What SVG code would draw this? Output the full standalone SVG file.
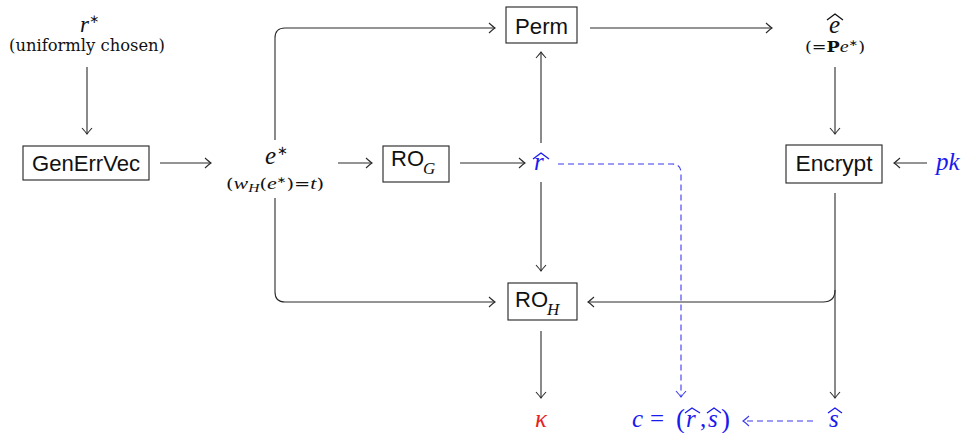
<svg xmlns="http://www.w3.org/2000/svg" width="966" height="433" viewBox="0 0 966 433">
<defs>
<style>
.box{fill:#fff;stroke:#222;stroke-width:1.1}
.lbl{font-family:"Liberation Sans",Arial,sans-serif;font-size:22px;fill:#111}
.mi{font-family:"Liberation Serif","Times New Roman",serif;font-style:italic;fill:#111}
.rm{font-family:"Liberation Serif","Times New Roman",serif;fill:#111}
.dv{font-family:"DejaVu Serif",serif;fill:#111}
.ast{font-family:"DejaVu Sans",sans-serif;font-style:normal}
.blue{fill:#1a1aee}
.red{fill:#e82222}
.edge{fill:none;stroke:#2a2a2a;stroke-width:1.1}
.dash{fill:none;stroke:#3a3af0;stroke-width:1.1;stroke-dasharray:6,4}
.hat{fill:none;stroke-width:1.3;stroke-linejoin:round}
</style>
<marker id="arr" markerUnits="userSpaceOnUse" markerWidth="14" markerHeight="14" viewBox="-7 -7 14 14" refX="0" refY="0" orient="auto" overflow="visible">
<path d="M-6,-5 Q-1.8,-1.2 0,0 Q-1.8,1.2 -6,5" fill="none" stroke="#2a2a2a" stroke-width="1.1"/>
</marker>
<marker id="arrb" markerUnits="userSpaceOnUse" markerWidth="14" markerHeight="14" viewBox="-7 -7 14 14" refX="0" refY="0" orient="auto" overflow="visible">
<path d="M-6,-5 Q-1.8,-1.2 0,0 Q-1.8,1.2 -6,5" fill="none" stroke="#3a3af0" stroke-width="1.1"/>
</marker>
</defs>
<rect width="966" height="433" fill="#fff"/>

<g id="rstar">
<text class="mi" x="80" y="32" font-size="23">r</text>
<text class="rm ast" x="89" y="23" font-size="12">∗</text>
<text class="dv" x="87" y="51" font-size="16" text-anchor="middle" textLength="156" lengthAdjust="spacingAndGlyphs">(uniformly chosen)</text>
</g>

<g id="generrvec">
<rect class="box" x="23" y="146" width="126" height="34"/>
<text class="lbl" x="86" y="171" text-anchor="middle" textLength="108" lengthAdjust="spacingAndGlyphs">GenErrVec</text>
</g>

<g id="estar">
<text class="mi" x="265" y="164" font-size="25">e</text>
<text class="rm ast" x="277" y="155" font-size="13">∗</text>
<text class="dv" x="226" y="189" font-size="15" textLength="98" lengthAdjust="spacingAndGlyphs">(<tspan class="mi" font-size="17">w</tspan><tspan class="mi" font-size="12" dy="3">H</tspan><tspan dy="-3">(</tspan><tspan class="mi" font-size="17">e</tspan><tspan class="ast" font-size="9" dy="-6">∗</tspan><tspan dy="6">)=</tspan><tspan class="mi" font-size="17">t</tspan>)</text>
</g>

<g id="rog">
<rect class="box" x="383" y="146" width="66" height="36"/>
<text class="lbl" x="391" y="166">RO</text>
<text class="mi" x="423" y="174" font-size="17">G</text>
</g>

<g id="rhat">
<text class="mi blue" x="534" y="170" font-size="25">r</text>
<path class="hat" stroke="#1a1aee" d="M533,159 L541,153 L549,159"/>
</g>

<g id="perm">
<rect class="box" x="506" y="7" width="71" height="36"/>
<text class="lbl" x="541.5" y="34" text-anchor="middle" textLength="53" lengthAdjust="spacingAndGlyphs">Perm</text>
</g>

<g id="ehat">
<text class="mi" x="829" y="33" font-size="25">e</text>
<path class="hat" stroke="#111" d="M827,20 L835,14 L843,20"/>
<text class="dv" x="805" y="52" font-size="14" textLength="60" lengthAdjust="spacingAndGlyphs">(=<tspan font-weight="bold">P</tspan><tspan class="mi" font-size="16">e</tspan><tspan class="ast" font-size="9" dy="-6">∗</tspan><tspan dy="6">)</tspan></text>
</g>

<g id="encrypt">
<rect class="box" x="786" y="145" width="96" height="38"/>
<text class="lbl" x="834" y="171" text-anchor="middle" textLength="77" lengthAdjust="spacingAndGlyphs">Encrypt</text>
</g>

<g id="pk">
<text class="mi blue" x="936" y="170" font-size="25">pk</text>
</g>

<g id="roh">
<rect class="box" x="508" y="283" width="69" height="37"/>
<text class="lbl" x="515" y="307">RO</text>
<text class="mi" x="547" y="315" font-size="17">H</text>
</g>

<g id="kappa">
<text class="mi red" x="541" y="427" font-size="25" text-anchor="middle">κ</text>
</g>

<g id="cipher">
<text class="mi blue" x="632" y="427" font-size="25">c</text>
<text class="rm blue" x="650" y="427" font-size="25">=</text>
<text class="rm blue" x="676" y="428" font-size="27">(</text>
<text class="mi blue" x="686" y="427" font-size="25">r</text>
<path class="hat" stroke="#1a1aee" d="M685,413 L692,408 L700,413"/>
<text class="rm blue" x="700" y="427" font-size="25">,</text>
<text class="mi blue" x="708" y="427" font-size="25">s</text>
<path class="hat" stroke="#1a1aee" d="M707,413 L714,408 L721,413"/>
<text class="rm blue" x="721" y="428" font-size="27">)</text>
</g>

<g id="shat">
<text class="mi blue" x="829" y="427" font-size="25">s</text>
<path class="hat" stroke="#1a1aee" d="M828,413 L835,408 L842,413"/>
</g>

<g id="connectors">
<path class="edge" marker-end="url(#arr)" d="M87,67 V134"/>
<path class="edge" marker-end="url(#arr)" d="M160,163 H211"/>
<path class="edge" marker-end="url(#arr)" d="M338,163 H372"/>
<path class="edge" marker-end="url(#arr)" d="M460,163 H525"/>
<path class="edge" marker-end="url(#arr)" d="M541,143 V52"/>
<path class="edge" marker-end="url(#arr)" d="M275,140 V38 Q275,28 285,28 H495"/>
<path class="edge" marker-end="url(#arr)" d="M275,198 V292 Q275,302 285,302 H495"/>
<path class="edge" marker-end="url(#arr)" d="M541,182 V271"/>
<path class="edge" marker-end="url(#arr)" d="M590,28 H772"/>
<path class="edge" marker-end="url(#arr)" d="M835,67 V134"/>
<path class="edge" marker-end="url(#arr)" d="M927,163 H894"/>
<path class="edge" marker-end="url(#arr)" d="M835,193 V398"/>
<path class="edge" marker-end="url(#arr)" d="M835,290 Q835,302 823,302 H588"/>
<path class="edge" marker-end="url(#arr)" d="M541,331 V398"/>
<path class="dash" marker-end="url(#arrb)" d="M558,164 H672 Q681,164 681,173 V397"/>
<path class="dash" marker-end="url(#arrb)" d="M813,421 H743"/>
</g>
</svg>
